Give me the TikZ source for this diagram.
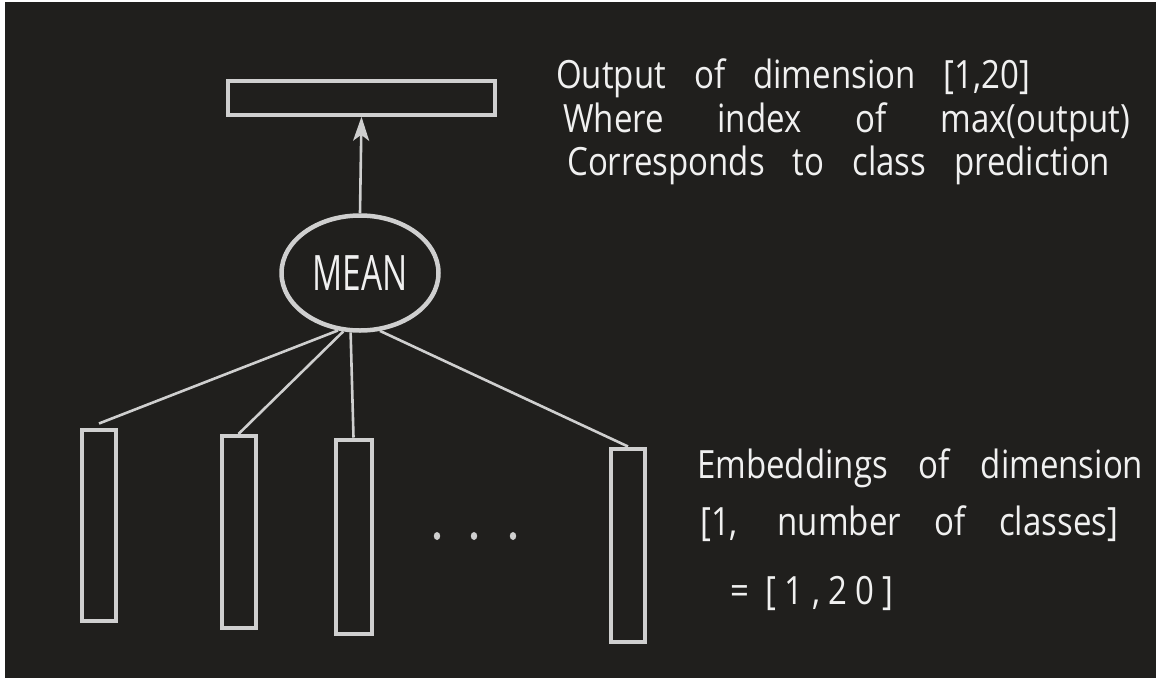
\documentclass[tikz,border=0pt]{standalone}
\usepackage{fontspec}
\setmainfont{Open Sans}
\usetikzlibrary{shapes.geometric,arrows.meta}
\definecolor{bg}{HTML}{201F1D}
\definecolor{ink}{HTML}{CFCFCF}
\definecolor{chalk}{HTML}{F0F0F0}
\newcommand{\handline}[2]{\scalebox{1}[1.18]{\makebox[#1][s]{#2}}}
\begin{document}
\begin{tikzpicture}[x=1pt,y=-1pt,
  bar/.style={draw=ink, line width=4pt, inner sep=0pt, minimum width=34pt, minimum height=191pt},
  conn/.style={draw=ink, line width=2.6pt},
  hand/.style={anchor=base west, inner sep=0pt, text=chalk, font=\fontsize{33}{38}\selectfont}]
  \useasboundingbox (0,0) rectangle (1156,678);
  \fill[white] (0,0) rectangle (1156,678);
  \fill[bg] (5,2) rectangle (1156,678);

  % output vector
  \node[draw=ink, line width=3.5pt, inner sep=0pt, minimum width=267pt, minimum height=34pt] (out) at (361.5,98) {};
  % mean
  \node[ellipse, draw=ink, line width=4.5pt, inner sep=0pt, minimum width=157pt, minimum height=115pt, text=chalk] (mean) at (360,273)
    {\resizebox{95pt}{35pt}{MEAN}};
  \draw[conn, -{Stealth[length=24pt, width=16pt, inset=6pt]}] (mean.north) -- (out.south);

  % embeddings
  \node[bar] (e1) at (99,525) {};
  \node[bar, minimum height=192pt] (e2) at (238.5,532) {};
  \node[bar, minimum height=194pt, minimum width=36pt] (e3) at (353.5,536.5) {};
  \node[bar, minimum height=193pt] (e4) at (628,545) {};

  \draw[conn] (mean.249) -- ([yshift=4pt]e1.north);
  \draw[conn] (mean.254) -- (e2.north);
  \draw[conn] (mean.261) -- (e3.north);
  \draw[conn] (mean.289) -- (e4.north);

  % ellipsis
  \foreach \x in {437,474,513} \fill[ink] (\x,536) ellipse (3.2pt and 4pt);

  % annotations
  \node[hand] (t1) at (556,88) {\handline{474pt}{Output of dimension [1,20]}};
  \node[hand] (t2) at (563,132) {\handline{567pt}{Where index of max(output)}};
  \node[hand] (t3) at (567,175) {\handline{543pt}{Corresponds to class prediction}};

  \node[hand] (t4) at (697,478) {\handline{446pt}{Embeddings of dimension}};
  \node[hand] (t5) at (700,535) {\handline{418pt}{[1, number of classes]}};
  \node[hand] (t6) at (730,604) {\scalebox{1}[1.18]{\addfontfeatures{LetterSpace=25}= [1,20]}};
\end{tikzpicture}
\end{document}
